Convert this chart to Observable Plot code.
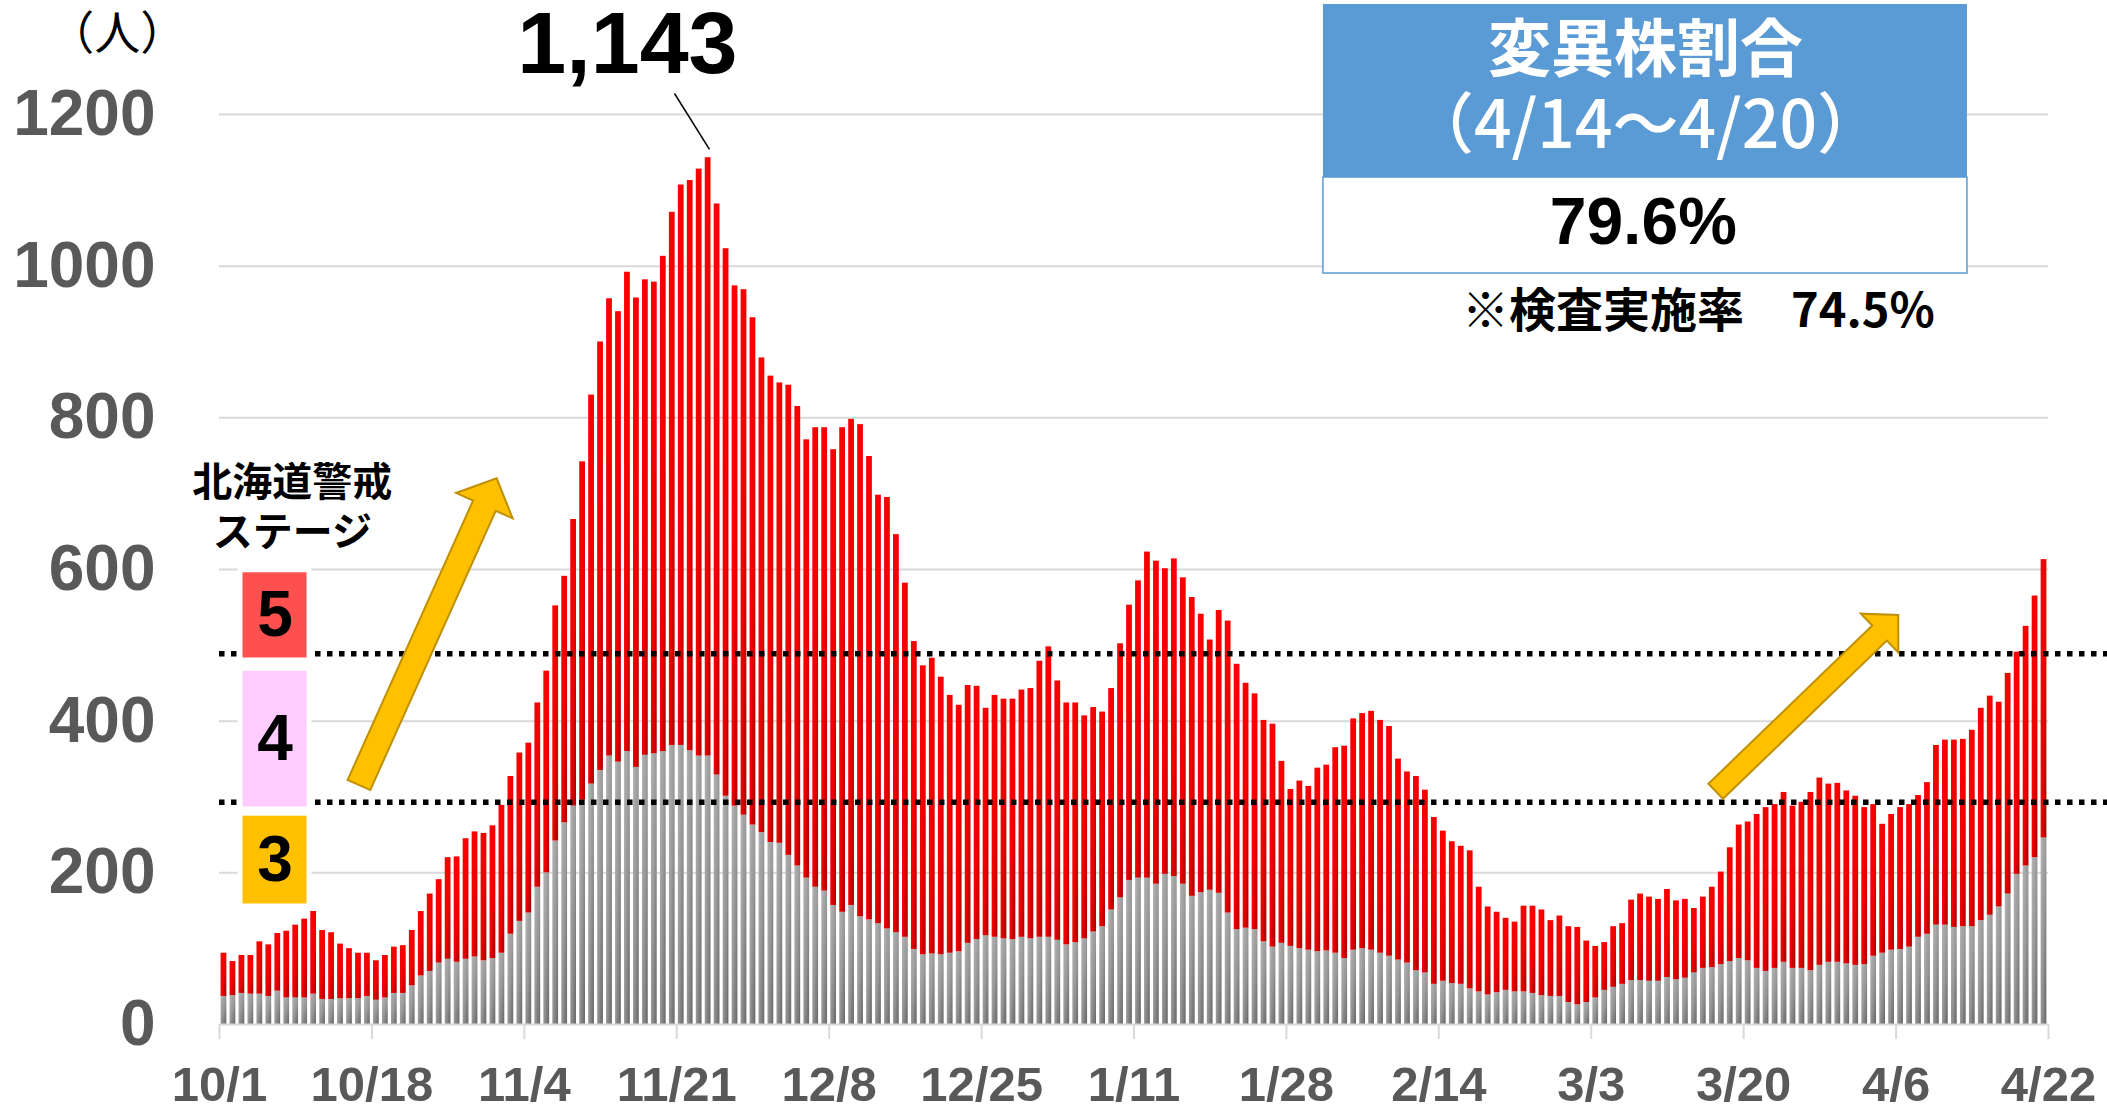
<!DOCTYPE html>
<html><head><meta charset="utf-8">
<script src="https://cdn.jsdelivr.net/npm/d3@7"></script>
<script src="https://cdn.jsdelivr.net/npm/@observablehq/plot@0.6"></script>
<style>
body{margin:0;background:#fff;}
#chart{position:relative;width:2107px;height:1111px;overflow:hidden;}
</style>
</head><body>
<svg width="0" height="0" style="position:absolute">
<defs>
<linearGradient id="gradRed" x1="0" y1="0" x2="1" y2="1">
<stop offset="0" stop-color="#ff0000"/>
<stop offset="0.55" stop-color="#f20000"/>
<stop offset="1" stop-color="#a80000"/>
</linearGradient>
<linearGradient id="gradGray" x1="0" y1="0" x2="1" y2="1">
<stop offset="0" stop-color="#b4b4b4"/>
<stop offset="0.5" stop-color="#989898"/>
<stop offset="1" stop-color="#666666"/>
</linearGradient>
</defs>
</svg>
<div id="chart"></div>
<script>
// Daily totals 10/1/2020 - 4/22/2021 (top of each bar)
const totalCases = [
 94,83,91,91,109,105,120,123,131,139,149,124,121,106,100,94,94,84,91,102,104,124,149,172,191,220,221,245,254,252,262,
 289,327,358,371,424,466,552,591,666,742,830,900,957,940,992,958,982,979,1013,1071,1107,1113,1128,1143,1082,1023,974,969,932,879,
 855,846,843,815,771,787,787,758,787,798,791,749,698,695,646,582,505,473,483,458,434,421,447,446,417,434,429,429,441,443,479,
 498,453,424,424,407,418,412,443,502,553,585,623,611,601,614,589,563,541,507,546,532,475,450,436,401,396,347,310,321,314,338,
 342,365,367,403,410,413,401,393,350,333,327,309,273,255,241,235,229,181,155,148,140,135,156,156,151,137,143,129,
 128,110,103,108,129,133,164,172,168,165,178,163,165,153,168,181,201,233,263,267,277,286,290,306,288,293,306,325,317,318,308,
 301,286,290,264,277,286,290,302,319,368,375,375,376,388,417,433,425,463,491,525,565,613
];
// Lower (gray) part of each bar
const lowerCases = [
 37,38,41,40,40,37,44,35,35,35,40,33,33,34,34,34,37,32,35,41,41,51,64,70,81,86,82,86,89,84,87,
 94,119,136,147,181,200,242,266,288,296,317,335,354,346,360,339,355,357,360,368,368,361,354,354,329,301,288,276,263,253,
 240,239,223,209,193,181,176,157,148,157,142,138,133,126,121,115,99,92,93,92,94,96,107,112,117,115,113,112,115,113,115,
 115,111,105,108,113,122,129,151,167,190,193,193,185,198,195,185,169,174,177,173,147,125,127,125,109,102,107,103,100,98,96,
 97,94,87,98,100,98,94,90,85,81,71,68,53,57,54,53,47,43,39,42,45,43,43,41,38,37,37,29,
 26,29,35,45,49,53,58,58,57,57,62,59,61,68,74,75,79,83,87,84,74,70,74,82,74,74,71,78,82,82,80,
 78,79,90,94,98,99,102,115,119,131,131,128,129,129,137,144,155,172,198,209,220,246
];
const tickDays = [0,17,34,51,68,85,102,119,136,153,170,187,204];
const tickLabels = ["10/1","10/18","11/4","11/21","12/8","12/25","1/11","1/28","2/14","3/3","3/20","4/6","4/22"];
const yTicks = [0,200,400,600,800,1000,1200];
const stageLevels = [489, 293];
const stageNames = ["5","4","3"];
const stageColors = ["#FF5050","#FFCCFF","#FFC000"];
const stageTops = [599, 469, 278];
const stageBottoms = [480, 283.5, 155.6];
const stageTitle = "北海道警戒\nステージ";
const peakLabel = "1,143";
const unitLabel = "（人）";
const variantTitle = "変異株割合";
const variantPeriod = "（4/14～4/20）";
const variantShare = "79.6%";
const testRateNote = "※検査実施率　74.5%";

const rows = totalCases.map((t, i) => ({day: i, total: t, lower: lowerCases[i]}));
const stageRows = stageNames.map((n, i) => ({name: n, color: stageColors[i], top: stageTops[i], bottom: stageBottoms[i]}));
const labelOf = new Map(tickDays.map((d, i) => [d, tickLabels[i]]));

const JP = "'Noto Sans CJK JP', 'Noto Sans', sans-serif";
const LS = "'Liberation Sans', Arial, sans-serif";

const plot = Plot.plot({
  width: 2107, height: 1111,
  marginLeft: 219, marginRight: 59, marginTop: 114, marginBottom: 87,
  x: {type: "linear", domain: [0, 204]},
  y: {domain: [0, 1200]},
  color: {type: "identity"},
  style: {fontFamily: LS, background: "white", overflow: "visible"},
  marks: [
    Plot.ruleY(yTicks.filter(v => v > 0), {stroke: "#d9d9d9", strokeWidth: 2}),
    Plot.rect(rows, {x1: "day", x2: d => d.day + 1, y1: 0, y2: "lower", fill: "url(#gradGray)", insetLeft: 1.6, insetRight: 1.6}),
    Plot.rect(rows, {x1: "day", x2: d => d.day + 1, y1: "lower", y2: "total", fill: "url(#gradRed)", insetLeft: 1.6, insetRight: 1.6}),
    Plot.ruleY([0], {stroke: "#d9d9d9", strokeWidth: 2}),
    Plot.axisX(tickDays, {tickSize: 15, tickPadding: 27, stroke: "#d9d9d9", strokeWidth: 2,
      tickFormat: d => labelOf.get(d), fontSize: 49, fontWeight: "bold", fill: "#595959", fontFamily: LS, label: null}),
    Plot.axisY(yTicks, {tickSize: 0, tickPadding: 64, tickFormat: d => String(d), fontSize: 64, fontWeight: "bold", fill: "#595959", fontFamily: LS, label: null}),
    Plot.ruleY(stageLevels, {x1: 0, x2: 211, stroke: "#000", strokeWidth: 5.5, strokeDasharray: "5.5,6.5"}),
    Plot.rect(stageRows, {x1: 2.34, x2: 10.04, y1: "bottom", y2: "top", fill: "color", stroke: "white", strokeWidth: 5}),
    Plot.text(stageRows, {x: 6.19, y: d => (d.top + d.bottom) / 2, text: "name", fontSize: 64, fontWeight: "bold", fill: "#000", fontFamily: LS}),
    Plot.text([stageTitle], {x: 8.12, y: 685.7, text: d => d, lineHeight: 1.25, fontSize: 40, fontWeight: "bold", fill: "#000", fontFamily: JP}),
    Plot.text([unitLabel], {x: -11.4, y: 1306, text: d => d, fontSize: 46, fill: "#000", fontFamily: JP}),
    Plot.text([peakLabel], {x: 45.5, y: 1292, text: d => d, fontSize: 88, fontWeight: "bold", fill: "#000", fontFamily: LS}),
    Plot.link([0], {x1: 50.75, y1: 1227.7, x2: 54.65, y2: 1153.9, stroke: "#000", strokeWidth: 1.5}),
    Plot.rect([0], {x1: 123.13, x2: 194.96, y1: 1116.9, y2: 1345.1, fill: "#5B9BD5"}),
    Plot.rect([0], {x1: 123.13, x2: 194.96, y1: 990.3, y2: 1116.9, fill: "white", stroke: "#5B9BD5", strokeWidth: 1.5}),
    Plot.text([variantTitle], {x: 159.05, y: 1284.4, text: d => d, fontSize: 63, fontWeight: "bold", fill: "white", fontFamily: JP}),
    Plot.text([variantPeriod], {x: 159.05, y: 1184.2, text: d => d, fontSize: 66, fontWeight: 500, fill: "white", fontFamily: JP}),
    Plot.text([variantShare], {x: 158.8, y: 1057.6, text: d => d, fontSize: 66, fontWeight: "bold", fill: "#000", fontFamily: LS}),
    Plot.text([testRateNote], {x: 164.96, y: 940.2, text: d => d, fontSize: 47, fontWeight: "bold", fill: "#000", fontFamily: JP})
  ]
});

// Block arrows defined in data coordinates, drawn through the plot's scales
const arrows = [
  {tail: [15.61, 315.2], tip: [30.97, 719.6], shaft: 12.4, head: 31, len: 30},
  {tail: [166.94, 306.9], tip: [187.30, 539.3], shaft: 10.5, head: 27, len: 26}
];
const sx = plot.scale("x"), sy = plot.scale("y");
const svg = d3.select(plot);
for (const a of arrows) {
  const T = [sx.apply(a.tail[0]), sy.apply(a.tail[1])];
  const P = [sx.apply(a.tip[0]), sy.apply(a.tip[1])];
  const dx = P[0] - T[0], dy = P[1] - T[1], L = Math.hypot(dx, dy);
  const u = [dx / L, dy / L], n = [-u[1], u[0]];
  const B = [P[0] - u[0] * a.len, P[1] - u[1] * a.len];
  const pt = (o, k) => [o[0] + n[0] * k, o[1] + n[1] * k];
  const pts = [pt(T, a.shaft), pt(B, a.shaft), pt(B, a.head), P, pt(B, -a.head), pt(B, -a.shaft), pt(T, -a.shaft)];
  svg.append("polygon")
    .attr("points", pts.map(p => p.join(",")).join(" "))
    .attr("fill", "#FFC000").attr("stroke", "#BF9000").attr("stroke-width", 2).attr("stroke-linejoin", "miter");
}
document.getElementById("chart").appendChild(plot);
</script>
</body></html>
